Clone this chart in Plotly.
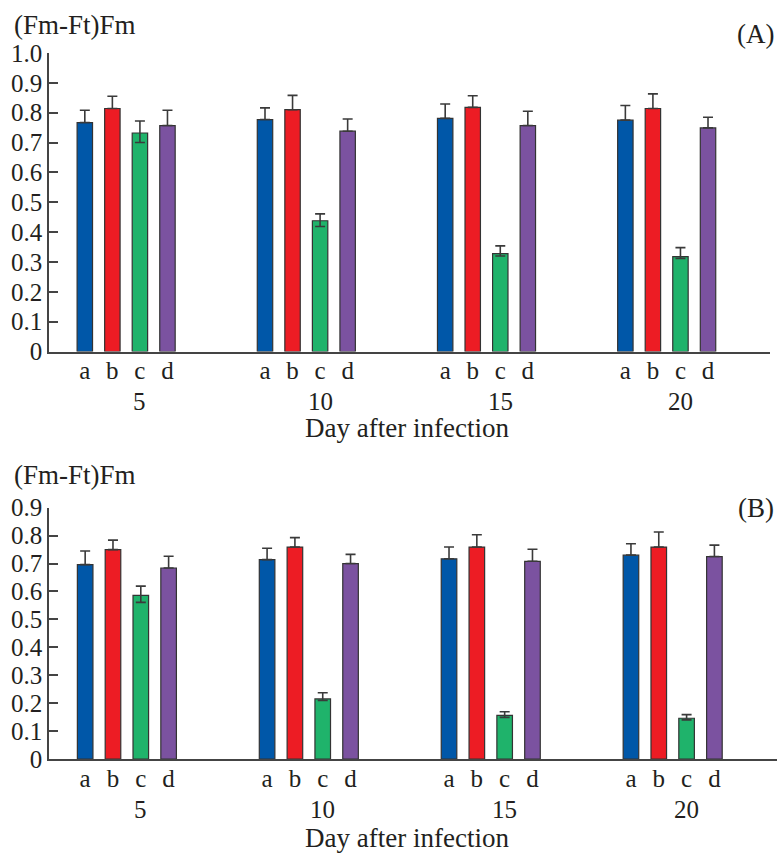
import plotly.graph_objects as go

# ---------------- data ----------------
days = ["5", "10", "15", "20"]
treatments = ["a", "b", "c", "d"]
colors = ["#0057A8", "#ED1C24", "#1FB36B", "#7B52A0"]

# Panel A values (per treatment, over days 5,10,15,20)
A_vals = {
    "a": [0.767, 0.777, 0.781, 0.775],
    "b": [0.814, 0.810, 0.818, 0.814],
    "c": [0.732, 0.438, 0.328, 0.318],
    "d": [0.757, 0.738, 0.757, 0.749],
}
A_err_up = {
    "a": [0.041, 0.039, 0.048, 0.049],
    "b": [0.041, 0.048, 0.039, 0.049],
    "c": [0.040, 0.023, 0.026, 0.030],
    "d": [0.051, 0.041, 0.048, 0.036],
}
A_err_down = {
    "a": [0, 0, 0, 0],
    "b": [0, 0, 0, 0],
    "c": [0.032, 0.019, 0.008, 0.006],
    "d": [0, 0, 0, 0],
}

# Panel B values
B_vals = {
    "a": [0.696, 0.714, 0.717, 0.730],
    "b": [0.750, 0.759, 0.759, 0.759],
    "c": [0.586, 0.215, 0.156, 0.146],
    "d": [0.684, 0.700, 0.708, 0.725],
}
B_err_up = {
    "a": [0.049, 0.041, 0.042, 0.041],
    "b": [0.034, 0.034, 0.044, 0.054],
    "c": [0.033, 0.022, 0.013, 0.013],
    "d": [0.042, 0.033, 0.043, 0.041],
}
B_err_down = {
    "a": [0, 0, 0, 0],
    "b": [0, 0, 0, 0],
    "c": [0.025, 0.005, 0.007, 0.006],
    "d": [0, 0, 0, 0],
}

A_yticks = [0, 0.1, 0.2, 0.3, 0.4, 0.5, 0.6, 0.7, 0.8, 0.9, 1.0]
A_yticktext = ["0", "0.1", "0.2", "0.3", "0.4", "0.5", "0.6", "0.7", "0.8", "0.9", "1.0"]
B_yticks = [0, 0.1, 0.2, 0.3, 0.4, 0.5, 0.6, 0.7, 0.8, 0.9]
B_yticktext = ["0", "0.1", "0.2", "0.3", "0.4", "0.5", "0.6", "0.7", "0.8", "0.9"]

y_label = "(Fm-Ft)Fm"
x_label = "Day after infection"
panel_labels = ["(A)", "(B)"]

# ---------------- layout helpers ----------------
GROUP = 6.54
FONT = "Liberation Serif, Times New Roman, serif"
TXT = "#231F20"
FS_TICK = 25
FS_TEXT = 26


def pos(gi, ti):
    return gi * GROUP + (ti - 1.5)


fig = go.Figure()

panels = [
    ("x", "y", A_vals, A_err_up, A_err_down),
    ("x2", "y2", B_vals, B_err_up, B_err_down),
]
for xa, ya, vals, eu, ed in panels:
    for ti, t in enumerate(treatments):
        fig.add_trace(go.Bar(
            x=[pos(gi, ti) for gi in range(len(days))],
            y=vals[t],
            width=0.56,
            marker=dict(color=colors[ti], line=dict(color="#333333", width=1.2)),
            error_y=dict(type="data", symmetric=False, array=eu[t], arrayminus=ed[t],
                         color="#3a3a3a", thickness=1.6, width=5),
            xaxis=xa, yaxis=ya, showlegend=False,
        ))

xtickvals = [pos(gi, ti) for gi in range(len(days)) for ti in range(len(treatments))]
xticktext = [t for _ in days for t in treatments]

xaxis_common = dict(
    range=[-2.8, 23.37], tickvals=xtickvals, ticktext=xticktext, ticks="",
    showline=True, linecolor="#444444", linewidth=1.5, showgrid=False, zeroline=False,
    tickfont=dict(family=FONT, size=FS_TICK, color=TXT), ticklabelstandoff=-4,
    automargin=False,
)
yaxis_common = dict(
    ticks="inside", ticklen=9, tickwidth=1.5, tickcolor="#444444",
    showline=True, linecolor="#444444", linewidth=1.5, showgrid=False, zeroline=False,
    tickfont=dict(family=FONT, size=FS_TICK, color=TXT), automargin=False,
)

fig.update_layout(
    width=778, height=855,
    margin=dict(l=0, r=0, t=0, b=0, autoexpand=False),
    paper_bgcolor="white", plot_bgcolor="white",
    barmode="overlay",
    xaxis=dict(domain=[49 / 778, 770 / 778], anchor="y", **xaxis_common),
    yaxis=dict(domain=[1 - 351.5 / 855, 1 - 53 / 855], anchor="x", range=[0, 1.0],
               tickvals=A_yticks, ticktext=A_yticktext, **yaxis_common),
    xaxis2=dict(domain=[49 / 778, 777 / 778], anchor="y2", **xaxis_common),
    yaxis2=dict(domain=[1 - 759 / 855, 1 - 507.7 / 855], anchor="x2", range=[0, 0.9],
                tickvals=B_yticks, ticktext=B_yticktext, **yaxis_common),
)

ann = []
for yl_y, pl_y, grp_y, xr, pl in [
    (1 - 25 / 855, 1 - 34 / 855, 1 - 401 / 855, "x", panel_labels[0]),
    (1 - 475 / 855, 1 - 508 / 855, 1 - 809 / 855, "x2", panel_labels[1]),
]:
    ann.append(dict(text=y_label, x=12 / 778, y=yl_y, xref="paper", yref="paper",
                    xanchor="left", yanchor="middle", showarrow=False,
                    font=dict(family=FONT, size=FS_TEXT + 1, color=TXT)))
    ann.append(dict(text=pl, x=776 / 778, y=pl_y, xref="paper", yref="paper",
                    xanchor="right", yanchor="middle", showarrow=False,
                    font=dict(family=FONT, size=FS_TEXT + 1, color=TXT)))
    for gi, d in enumerate(days):
        ann.append(dict(text=d, x=gi * GROUP + 0.5, y=grp_y, xref=xr, yref="paper",
                        xanchor="center", yanchor="middle", showarrow=False,
                        font=dict(family=FONT, size=FS_TICK, color=TXT)))

# x-axis titles
ann.append(dict(text=x_label, x=407 / 778, y=1 - 428 / 855, xref="paper", yref="paper",
                xanchor="center", yanchor="middle", showarrow=False,
                font=dict(family=FONT, size=FS_TEXT + 1, color=TXT)))
ann.append(dict(text=x_label, x=407 / 778, y=0, xref="paper", yref="paper",
                xanchor="center", yanchor="bottom", showarrow=False,
                font=dict(family=FONT, size=FS_TEXT + 1, color=TXT)))
fig.update_layout(annotations=ann)

fig.write_html("out.html")
